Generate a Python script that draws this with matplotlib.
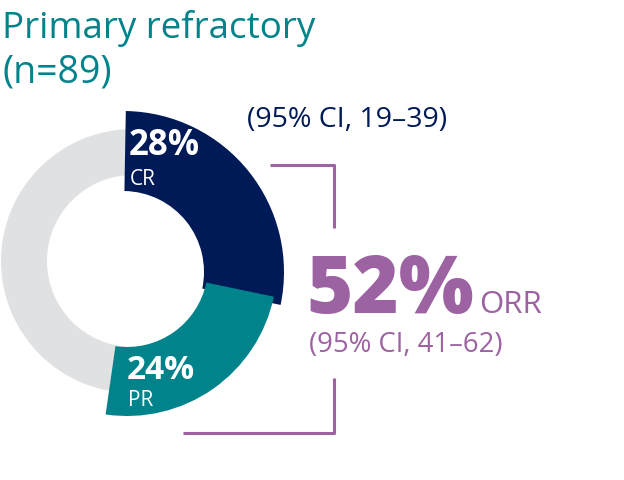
import matplotlib
matplotlib.use("Agg")
import matplotlib.pyplot as plt

plt.rcParams['font.family'] = ['Open Sans', 'DejaVu Sans']

# data
cr = 28
pr = 24
rest = 100 - cr - pr
orr = cr + pr
ci_cr = "(95% CI, 19\u201339)"
ci_orr = "(95% CI, 41\u201362)"
title = "Primary refractory\n(n=89)"

navy = "#001A57"
teal = "#00838A"
grey = "#E0E1E3"
purple = "#9C62A2"

H = 480
fig = plt.figure(figsize=(6.24, 4.8), dpi=100)
ax = fig.add_axes([0, 0, 1, 1])

# grey background ring
ax.pie([cr + pr + rest], colors=[grey], radius=132, center=(133, H - 261),
       wedgeprops=dict(width=46, linewidth=0))

# coloured slices, pulled out and thicker than the ring
wedges, _ = ax.pie([cr, pr, rest], colors=[navy, teal, "none"], startangle=89,
                   counterclock=False, radius=161, center=(123, H - 272),
                   wedgeprops=dict(width=80, linewidth=0))
wedges[1].set_center((127, H - 266))
wedges[1].set_radius(150)
wedges[1].set_width(69)

ax.set_xlim(0, 624)
ax.set_ylim(0, H)
ax.set_aspect('equal')
ax.axis('off')

def txt(x, y, s, **kw):
    ax.text(x, H - y, s, va='baseline', **kw)

# title
txt(2, 38, "Primary refractory", fontsize=26.5, color=teal)
txt(2, 83, "(n=89)", fontsize=27, color=teal)

# slice labels
txt(129, 155, f"{cr}%", fontsize=25, color="white", fontweight='bold')
txt(130, 185, "CR", fontsize=15, color="white")
txt(127, 379, f"{pr}%", fontsize=24, color="white", fontweight='bold')
txt(128, 406, "PR", fontsize=15, color="white")

txt(247, 127, ci_cr, fontsize=20.5, color=navy)

# ORR block
txt(306, 313, f"{orr}%", fontsize=57, color=purple, fontweight='heavy')
txt(479, 313, "ORR", fontsize=22.5, color=purple)
txt(309, 352, ci_orr, fontsize=19.8, color=purple)

# bracket
ax.plot([270, 334, 334], [H - 165, H - 165, H - 228], color=purple, lw=2.2,
        solid_capstyle='butt')
ax.plot([334, 334, 183], [H - 378, H - 433, H - 433], color=purple, lw=2.2,
        solid_capstyle='butt')

fig.savefig("out.png", dpi=100)
